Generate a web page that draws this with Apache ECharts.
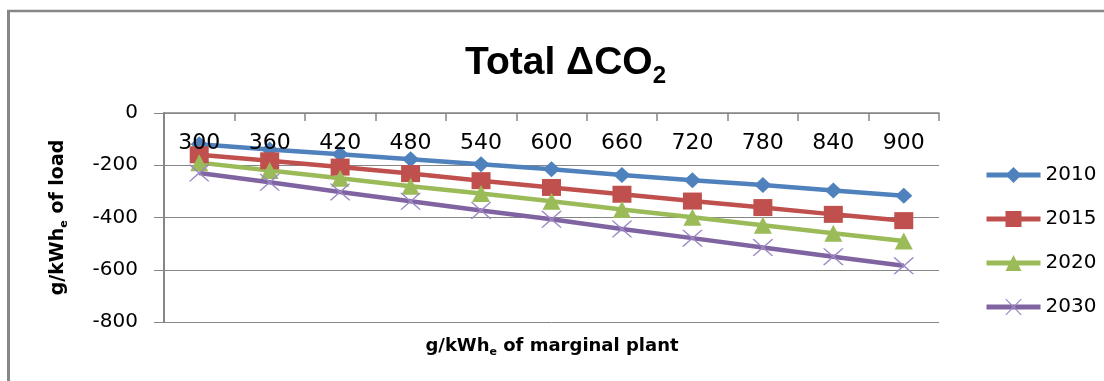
<!DOCTYPE html>
<html>
<head>
<meta charset="utf-8">
<title>Total ΔCO2</title>
<script src="https://cdn.jsdelivr.net/npm/echarts@6/dist/echarts.min.js"></script>
<style>
  html, body { margin: 0; padding: 0; background: #fff; }
  #chart { width: 1104px; height: 381px; }
</style>
</head>
<body>
<div id="chart"></div>
<script>
// Marginal plant emission factors (g/kWh_e)
const categories = ['300', '360', '420', '480', '540', '600', '660', '720', '780', '840', '900'];

// Total change in CO2 per kWh_e of load, by year
const s2010 = [-120, -140, -158, -177, -196, -215, -237, -257, -276, -297, -317];
const s2015 = [-160, -183, -207, -232, -259, -285, -311, -337, -362, -388, -412];
const s2020 = [-190, -220, -250, -280, -308, -338, -369, -399, -430, -460, -490];
const s2030 = [-230, -265, -302, -338, -373, -407, -444, -479, -515, -550, -585];

const seriesNames = ['2010', '2015', '2020', '2030'];
const yTicks = { min: -800, max: 0, step: 200 };

// thin cross marker
const crossPath = 'path://M0,0L1.3,0L10,7.6L18.7,0L20,0L20,0.6L11.2,8.5L20,16.4L20,17L18.7,17L10,9.4L1.3,17L0,17L0,16.4L8.8,8.5L0,0.6Z';

const axisGray = '#868686';
const font = 'DejaVu Sans';

const chart = echarts.init(document.getElementById('chart'), null, { renderer: 'canvas' });

function lineSeries(name, data, color, symbol, size, markColor) {
  return {
    name: name,
    type: 'line',
    data: data,
    symbol: symbol,
    symbolSize: size,
    showSymbol: true,
    lineStyle: { color: color, width: 4.5 },
    itemStyle: { color: markColor || color },
    emphasis: { disabled: true },
    animation: false
  };
}

chart.setOption({
  animation: false,
  backgroundColor: '#fff',
  title: [
    {
      text: '{m|Total ΔCO}{s|2}',
      left: 460,
      top: 33,
      textStyle: {
        rich: {
          m: { fontFamily: 'Liberation Sans', fontWeight: 'bold', fontSize: 39, lineHeight: 50, color: '#000' },
          s: { fontFamily: 'Liberation Sans', fontWeight: 'bold', fontSize: 24, lineHeight: 24, verticalAlign: 'bottom', color: '#000' }
        }
      }
    },
    {
      text: '{m|g/kWh}{s|e}{m| of marginal plant}',
      left: 'center',
      top: 329,
      textStyle: {
        rich: {
          m: { fontFamily: font, fontWeight: 'bold', fontSize: 18, lineHeight: 24, color: '#000' },
          s: { fontFamily: font, fontWeight: 'bold', fontSize: 11, lineHeight: 12, verticalAlign: 'bottom', color: '#000' }
        }
      }
    }
  ],
  graphic: [
    { type: 'line', shape: { x1: 8.5, y1: 11, x2: 8.5, y2: 400 }, style: { stroke: '#878787', lineWidth: 3 } },
    { type: 'line', shape: { x1: 7, y1: 11, x2: 1110, y2: 11 }, style: { stroke: '#878787', lineWidth: 2.5 } }
  ],
  legend: {
    orient: 'vertical',
    left: 979,
    top: 160,
    itemWidth: 54,
    itemHeight: 20,
    itemGap: 24,
    data: seriesNames,
    lineStyle: { width: 5 },
    textStyle: { fontFamily: font, fontSize: 20, color: '#000' }
  },
  grid: { left: 164, right: 165, top: 113, bottom: 59, containLabel: false },
  xAxis: {
    type: 'category',
    data: categories,
    position: 'top',
    boundaryGap: true,
    z: 10,
    axisLine: { show: true, lineStyle: { color: axisGray, width: 1.5 } },
    axisTick: { show: true, inside: true, length: 8, interval: 0, lineStyle: { color: axisGray, width: 1.5 } },
    axisLabel: { inside: true, margin: 19, interval: 0, fontFamily: font, fontSize: 22, color: '#000' },
    splitLine: { show: false }
  },
  yAxis: {
    type: 'value',
    min: yTicks.min,
    max: yTicks.max,
    interval: yTicks.step,
    name: '{m|g/kWh}{s|e}{m| of load}',
    nameLocation: 'middle',
    nameGap: 94,
    nameTextStyle: {
      rich: {
        m: { fontFamily: font, fontWeight: 'bold', fontSize: 19, lineHeight: 24, color: '#000' },
        s: { fontFamily: font, fontWeight: 'bold', fontSize: 11, lineHeight: 12, verticalAlign: 'bottom', color: '#000' }
      }
    },
    axisLine: { show: true, lineStyle: { color: axisGray, width: 2 } },
    axisTick: { show: true, inside: false, length: 10, lineStyle: { color: axisGray, width: 1 } },
    axisLabel: { margin: 26, fontFamily: font, fontSize: 20, color: '#000' },
    splitLine: { show: true, lineStyle: { color: axisGray, width: 1 } }
  },
  series: [
    lineSeries('2010', s2010, '#4F81BD', 'diamond', [17, 16]),
    lineSeries('2015', s2015, '#C0504D', 'rect', [19, 17]),
    lineSeries('2020', s2020, '#9BBB59', 'triangle', [18, 17]),
    lineSeries('2030', s2030, '#8064A2', crossPath, [20, 17], '#9C88C4')
  ]
});
</script>
</body>
</html>
